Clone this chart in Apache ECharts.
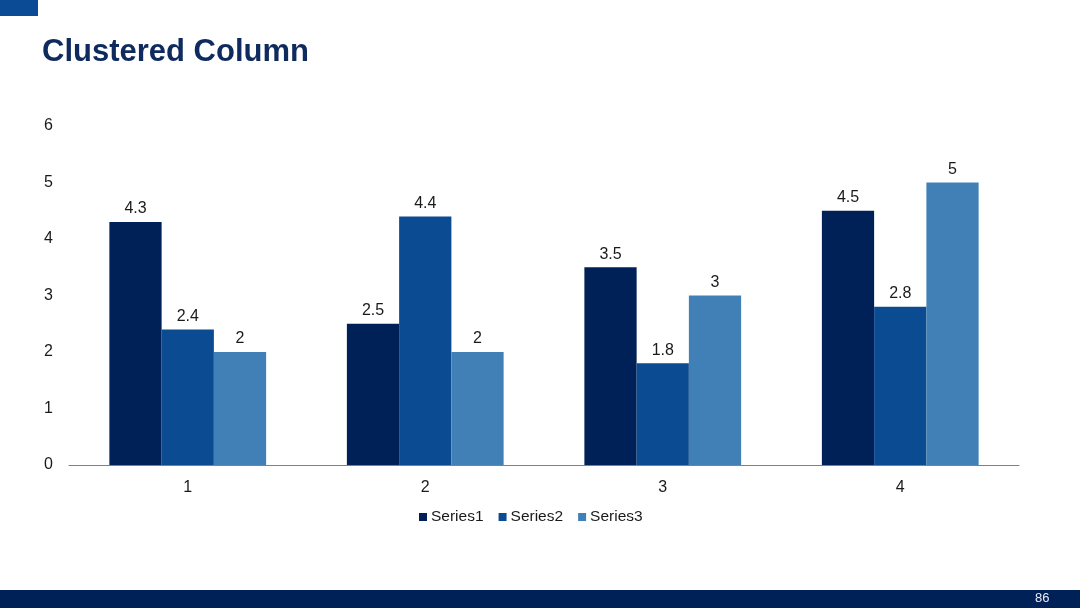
<!DOCTYPE html>
<html><head><meta charset="utf-8">
<script src="https://cdn.jsdelivr.net/npm/echarts@6/dist/echarts.min.js"></script>
<style>html,body{margin:0;padding:0;background:#fff}#c{width:1080px;height:608px}</style>
</head><body><div id="c"></div>
<script>
const categories = ['1','2','3','4'];
const series1 = [4.3, 2.5, 3.5, 4.5];
const series2 = [2.4, 4.4, 1.8, 2.8];
const series3 = [2, 2, 3, 5];
const seriesNames = ['Series1','Series2','Series3'];
const colors = ['#002157','#0a4b91','#4180b6'];
const font = '"Liberation Sans", Arial, sans-serif';
const chart = echarts.init(document.getElementById('c'));
const lbl = {show:true, position:'top', distance:5, color:'#1a1a1a', fontSize:16, fontFamily:font};
chart.setOption({
  animation:false,
  title:{text:'Clustered Column', left:37, top:32, textStyle:{color:'#0f2a5e', fontSize:31, fontWeight:'bold', fontFamily:font}},
  graphic:[
    {type:'rect', shape:{x:0,y:0,width:38,height:16}, style:{fill:'#0b4a94'}},
    {type:'rect', shape:{x:0,y:590,width:1080,height:18}, style:{fill:'#002157'}},
    {type:'text', left:1035, top:592, style:{text:'86', fill:'#e8ecf4', font:'13px "Liberation Sans", Arial, sans-serif'}}
  ],
  legend:{data:seriesNames, top:504, left:414, itemWidth:8, itemHeight:8, itemGap:15, icon:'rect',
    textStyle:{fontSize:15.5, color:'#1a1a1a', fontFamily:font, padding:[0,0,0,-1]}},
  grid:{left:69, right:61, top:126, bottom:143, containLabel:false},
  xAxis:{type:'category', data:categories, axisTick:{show:false},
    axisLine:{lineStyle:{color:'#808080', width:1}},
    axisLabel:{fontSize:16, color:'#1a1a1a', fontFamily:font, margin:15}},
  yAxis:{type:'value', min:0, max:6, interval:1, splitLine:{show:false},
    axisLine:{show:false}, axisTick:{show:false},
    axisLabel:{fontSize:16, color:'#1a1a1a', fontFamily:font, margin:16}},
  series:[
    {name:seriesNames[0], type:'bar', data:series1, itemStyle:{color:colors[0]}, label:lbl, barGap:'0%', barCategoryGap:'34%'},
    {name:seriesNames[1], type:'bar', data:series2, itemStyle:{color:colors[1]}, label:lbl, barGap:'0%', barCategoryGap:'34%'},
    {name:seriesNames[2], type:'bar', data:series3, itemStyle:{color:colors[2]}, label:lbl, barGap:'0%', barCategoryGap:'34%'}
  ]
});
</script></body></html>
